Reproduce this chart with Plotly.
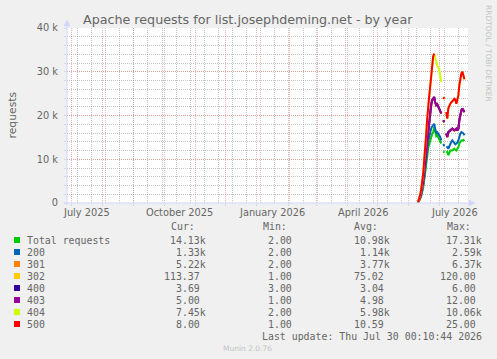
import numpy as np
import pandas as pd
import plotly.graph_objects as go

nan = np.nan

# ---------------- data (daily, starting 2026-06-10) ----------------
start_day = "2026-06-10"
n_days = 47

total = [100, 400, 900, 1500, 2300, 3400, 5000, 6500, 8500, 10500, 12500, 13500, 14500, 15300, 15800, 16200,
         17310, 16500, 15300, 15500, 15000, 14600, 14300, 13600, nan, 11800, 11500, nan,
         11500, 11700, 10900, 11500, 12000, 12000, 12000, 12200, 12400, 12200, 12000, 12400, 12800, 13600,
         14000, 14300, 14300, 14400, 14130]
s200 = [20, 60, 100, 200, 300, 400, 600, 800, 1000, 1300, 1500, 1700, 1800, 1700, 1700, 1600,
        790, 500, 600, 700, 800, 700, 800, 700, nan, 1700, 1500, nan,
        1400, 1100, 1500, 1500, 1600, 2000, 2300, 1800, 1200, 1200, 1600, 1400, 1500, 1800,
        1900, 1900, 1700, 1500, 1330]
s301 = [20, 80, 290, 480, 675, 1070, 1340, 1792, 2192, 2592, 2892, 3192, 4092, 5392, 5892, 5892,
        5992, 5892, 6370, 6292, 6200, 6192, 5592, 6092, nan, 5292, 5392, nan,
        2892, 2192, 3692, 3292, 2892, 2892, 2592, 2692, 2892, 3292, 3292, 2692, 2592, 3492,
        4392, 4892, 5492, 4992, 5220]
s302 = [1, 5, 10, 15, 20, 25, 50, 60, 70, 80, 90, 95, 100, 105, 110, 115,
        120, 110, 100, 95, 100, 105, 110, 100, nan, 95, 100, nan,
        105, 110, 100, 95, 90, 100, 110, 115, 120, 110, 105, 100, 95, 100,
        110, 115, 120, 118, 113.37]
s400 = [3, 3, 3, 3, 3, 3, 3, 3, 3, 3, 3, 3, 3, 3, 3, 3,
        6, 3, 3, 3, 3, 3, 3, 3, nan, 3, 3, nan,
        3, 3, 3, 3, 3, 4, 3, 3, 3, 3, 3, 3, 3, 3,
        3, 3, 3, 3, 3.69]
s403 = [1, 2, 2, 2, 2, 2, 5, 5, 5, 5, 6, 7, 8, 10, 12, 9,
        7, 5, 4, 5, 6, 5, 4, 4, nan, 5, 5, nan,
        4, 3, 4, 5, 5, 6, 5, 4, 5, 5, 6, 5, 4, 5,
        6, 5, 5, 5, 5]
s404 = [50, 250, 490, 795, 1195, 1594, 2494, 2790, 3690, 4490, 5490, 5790, 5990, 6490, 7990, 9690,
        9890, 10060, 9600, 8900, 8892, 8900, 8200, 7200, nan, 4890, 5690, nan,
        4890, 4190, 5390, 5890, 6090, 5990, 6190, 6690, 7290, 6690, 5690, 6890, 7590, 7990,
        8090, 8390, 8390, 8190, 7450]
s500 = [1, 2, 3, 5, 5, 6, 8, 10, 12, 15, 18, 20, 25, 22, 18, 15,
        12, nan, nan, nan, nan, nan, nan, nan, nan, 10, 10, nan,
        10, 8, 9, 10, 11, 12, 10, 9, 8, 10, 12, 11, 10, 9,
        8, 10, 9, 8, 8]

series_names = ["Total requests", "200", "301", "302", "400", "403", "404", "500"]
series_vals = [total, s200, s301, s302, s400, s403, s404, s500]
series_colors = ["#00CC00", "#0066B3", "#FF8000", "#FFCC00", "#330099", "#990099", "#CCFF00", "#FF0000"]

cur_vals = ["14.13k", "1.33k", "5.22k", "113.37", "3.69", "5.00", "7.45k", "8.00"]
min_vals = ["2.00", "2.00", "2.00", "1.00", "3.00", "1.00", "2.00", "1.00"]
avg_vals = ["10.98k", "1.14k", "3.77k", "75.02", "3.04", "4.98", "5.98k", "10.59"]
max_vals = ["17.31k", "2.59k", "6.37k", "120.00", "6.00", "12.00", "10.06k", "25.00"]

y_tickvals = [0, 10000, 20000, 30000, 40000]
y_ticktext = ["0", "10 k", "20 k", "30 k", "40 k"]
x_label_dates = ["2025-07-16", "2025-10-16", "2026-01-16", "2026-04-16", "2026-07-16"]
x_label_text = ["July 2025", "October 2025", "January 2026", "April 2026", "July 2026"]

title_text = "Apache requests for list.josephdeming.net - by year"
last_update = "Last update: Thu Jul 30 00:10:44 2026"

# ---------------- style ----------------
W, H = 497, 359
L, R, T, B = 67, 29, 28, 156
PW, PH = W - L - R, H - T - B
FONT = "#666666"
AXIS = "#CFD6F8"
MGRID = "rgba(235,120,120,0.55)"
GRID = "rgba(150,150,150,0.55)"
SANS = "DejaVu Sans"
MONO = "DejaVu Sans Mono"


def px(x):
    return (x - L) / PW


def py(y):
    return (H - B - y) / PH


dates = pd.date_range(start_day, periods=n_days, freq="D")

fig = go.Figure()
# empty trace that only anchors the secondary (bi-weekly grid) axis
fig.add_trace(go.Scatter(x=[], y=[], xaxis="x2", yaxis="y", showlegend=False, hoverinfo="skip"))
running = np.zeros(n_days)
for name, vals, col in zip(series_names, series_vals, series_colors):
    running = running + np.array(vals, dtype=float)
    fig.add_trace(go.Scatter(x=dates, y=running.copy(), mode="lines", name=name,
                             line=dict(color=col, width=2), connectgaps=False,
                             showlegend=False, hoverinfo="skip"))

x_range = ["2025-06-26 17:30", "2026-07-29 13:10"]

fig.update_layout(
    width=W, height=H,
    margin=dict(l=L, r=R, t=T, b=B, pad=0),
    paper_bgcolor="#F0F0F0", plot_bgcolor="#FFFFFF",
    font=dict(family=SANS, color=FONT, size=10),
    xaxis=dict(type="date", range=x_range, tickmode="linear", tick0="2025-07-01", dtick="M1",
               showticklabels=False, showgrid=True, gridcolor=MGRID, griddash="1px,1px", gridwidth=1,
               ticks="outside", ticklen=2, tickcolor=AXIS, showline=False, zeroline=False),
    xaxis2=dict(type="date", range=x_range, overlaying="x", anchor="y", side="bottom",
                tickmode="linear", tick0="2025-07-07", dtick=14 * 86400000,
                showticklabels=False, showgrid=True, gridcolor=GRID, griddash="1px,1px", gridwidth=1,
                ticks="", showline=False, zeroline=False),
    yaxis=dict(range=[0, 40000], tickmode="array", tickvals=y_tickvals, ticktext=y_ticktext,
               showgrid=True, gridcolor=MGRID, griddash="1px,1px", gridwidth=1,
               ticks="outside", ticklen=2, tickcolor=AXIS, showline=False, zeroline=False,
               tickfont=dict(family=SANS, size=9.8, color=FONT), ticklabelstandoff=4,
               minor=dict(showgrid=True, gridcolor=GRID, griddash="1px,1px", gridwidth=1,
                          dtick=2000, ticks="outside", ticklen=2, tickcolor=AXIS)),
)

shapes = []
# axis lines + arrows
shapes.append(dict(type="line", xref="paper", yref="paper", x0=px(L), x1=px(L), y0=py(205), y1=py(23),
                   line=dict(color=AXIS, width=1), layer="above"))
shapes.append(dict(type="line", xref="paper", yref="paper", x0=px(64), x1=px(470), y0=py(203), y1=py(203),
                   line=dict(color=AXIS, width=1), layer="above"))
shapes.append(dict(type="path", xref="paper", yref="paper",
                   path=f"M {px(64)} {py(26)} L {px(70)} {py(26)} L {px(67)} {py(20)} Z",
                   fillcolor=AXIS, line=dict(color=AXIS, width=0.5), layer="above"))
shapes.append(dict(type="path", xref="paper", yref="paper",
                   path=f"M {px(469)} {py(200)} L {px(469)} {py(206)} L {px(475)} {py(203)} Z",
                   fillcolor=AXIS, line=dict(color=AXIS, width=0.5), layer="above"))

ann = []
# x-axis month labels, positioned through the x axis scale
for d, lab in zip(x_label_dates, x_label_text):
    ann.append(dict(text=lab, x=d, y=py(212.5), xref="x", yref="paper",
                    xanchor="center", yanchor="middle", showarrow=False, borderpad=0,
                    font=dict(family=SANS, size=9.8, color=FONT)))
ann.append(dict(text=title_text, x=px(248.3), y=py(19.5), xref="paper", yref="paper",
                xanchor="center", yanchor="middle", showarrow=False, borderpad=0,
                font=dict(family=SANS, size=12.7, color=FONT)))
ann.append(dict(text="requests", x=px(11.5), y=py(115), xref="paper", yref="paper", textangle=-90,
                xanchor="center", yanchor="middle", showarrow=False, borderpad=0,
                font=dict(family=SANS, size=10.8, color=FONT)))
ann.append(dict(text="RRDTOOL / TOBI OETIKER", x=px(488.5), y=py(4), xref="paper", yref="paper",
                textangle=90, xanchor="center", yanchor="top", showarrow=False, borderpad=0,
                font=dict(family=SANS, size=7.5, color="#C4C4C4")))

# legend
col_right = [207.3, 299.3, 390.7, 482.7]
head_center = [183, 274.5, 366, 458.5]
for hc, lab in zip(head_center, ["Cur:", "Min:", "Avg:", "Max:"]):
    ann.append(dict(text=lab, x=px(hc), y=py(226.3), xref="paper", yref="paper",
                    xanchor="center", yanchor="middle", showarrow=False, borderpad=0,
                    font=dict(family=MONO, size=9.9, color=FONT)))
CW = 6.0
for i, name in enumerate(series_names):
    yrow = 240 + 12 * i
    shapes.append(dict(type="rect", xref="paper", yref="paper", x0=px(14), x1=px(20),
                       y0=py(yrow + 3), y1=py(yrow - 3), fillcolor=series_colors[i],
                       line=dict(width=0), layer="above"))
    ann.append(dict(text=name, x=px(26), y=py(yrow), xref="paper", yref="paper",
                    xanchor="left", yanchor="middle", showarrow=False, borderpad=0,
                    font=dict(family=MONO, size=9.9, color=FONT)))
    for cr, vals in zip(col_right, [cur_vals, min_vals, avg_vals, max_vals]):
        v = vals[i]
        xr = cr if v.endswith("k") else cr - CW
        ann.append(dict(text=v, x=px(xr), y=py(yrow), xref="paper", yref="paper",
                        xanchor="right", yanchor="middle", showarrow=False, borderpad=0,
                        font=dict(family=MONO, size=9.9, color=FONT)))
ann.append(dict(text=last_update, x=px(482.7), y=py(336), xref="paper", yref="paper",
                xanchor="right", yanchor="middle", showarrow=False, borderpad=0,
                font=dict(family=MONO, size=9.9, color=FONT)))
ann.append(dict(text="Munin 2.0.76", x=px(247.7), y=py(348), xref="paper", yref="paper",
                xanchor="center", yanchor="middle", showarrow=False, borderpad=0,
                font=dict(family=SANS, size=7.5, color="#C4C4C4")))

fig.update_layout(shapes=shapes, annotations=ann)
fig.write_html("out.html")
